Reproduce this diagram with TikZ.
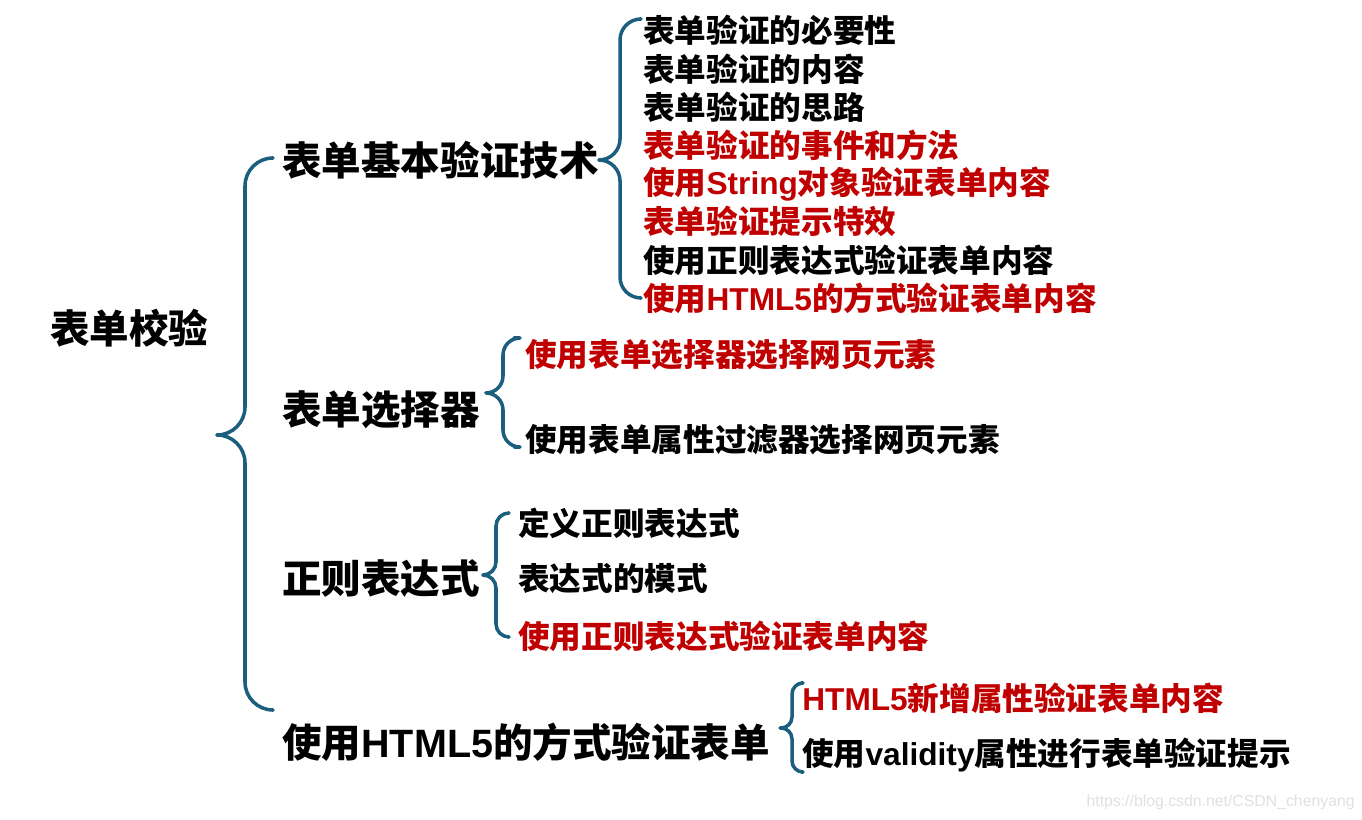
\documentclass[tikz,border=0pt]{standalone}
\usepackage{fontspec}
\setmainfont{Noto Sans CJK SC}
\newfontfamily\markfont{Liberation Sans}
\newcommand{\latin}[1]{{\markfont\bfseries #1}}
\definecolor{bracecol}{HTML}{1B5E7E}
\definecolor{hotred}{HTML}{C00000}
\tikzset{
  topic/.style={anchor=west, inner sep=0pt, font=\fontsize{22.5}{26}\selectfont\bfseries},
  leaf/.style={anchor=west, inner sep=0pt, font=\fontsize{18}{21}\selectfont\bfseries},
  hot/.style={leaf, text=hotred},
  bracket/.style={draw=bracecol, line width=2pt, line cap=round, line join=round},
}
% end x, spine x, tip x, top y, middle y, bottom y, corner radius
\newcommand{\curly}[7]{%
  \draw[bracket, rounded corners=#7] (#1,#4) -- (#2,#4) -- (#2,#5) -- (#3,#5);
  \draw[bracket, rounded corners=#7] (#3,#5) -- (#2,#5) -- (#2,#6) -- (#1,#6);}
\begin{document}
\begin{tikzpicture}[x=0.02cm, y=-0.02cm]
	\useasboundingbox (0,0) rectangle (1362,820);

	\node[topic] (root) at (50,328) {表单校验};
	\curly{272}{245}{218}{158}{435}{710}{0.56cm}

	% first branch
	\node[topic] (tech) at (282,160) {表单基本验证技术};
	\curly{640}{620}{600}{19}{160}{298}{0.42cm}
	\node[leaf] (tech1) at (643,30) {表单验证的必要性};
	\node[leaf] (tech2) at (643,69) {表单验证的内容};
	\node[leaf] (tech3) at (643,107) {表单验证的思路};
	\node[hot] (tech4) at (643,145) {表单验证的事件和方法};
	\node[hot] (tech5) at (643,184) {使用\latin{String}对象验证表单内容};
	\node[hot] (tech6) at (643,221) {表单验证提示特效};
	\node[leaf] (tech7) at (643,260) {使用正则表达式验证表单内容};
	\node[hot] (tech8) at (643,298) {使用\latin{HTML5}的方式验证表单内容};

	% second branch
	\node[topic] (select) at (282,410) {表单选择器};
	\curly{514}{503}{486}{338}{393}{447}{0.34cm}
	\node[hot] (select1) at (525,355) {使用表单选择器选择网页元素};
	\node[leaf] (select2) at (525,440) {使用表单属性过滤器选择网页元素};

	% third branch
	\node[topic] (regex) at (282,578) {正则表达式};
	\curly{508}{496}{484}{513}{575}{637}{0.26cm}
	\node[leaf] (regex1) at (518,523) {定义正则表达式};
	\node[leaf] (regex2) at (518,578) {表达式的模式};
	\node[hot] (regex3) at (518,636) {使用正则表达式验证表单内容};

	% fourth branch
	\node[topic] (html) at (282,742) {使用\latin{HTML5}的方式验证表单};
	\curly{801}{792}{780}{683}{728}{772}{0.22cm}
	\node[hot] (html1) at (802,698) {\latin{HTML5}新增属性验证表单内容};
	\node[leaf] (html2) at (802,755) {使用\latin{validity}属性进行表单验证提示};

	\node[anchor=east, inner sep=0pt, text=black!12, font=\markfont\fontsize{9}{11}\selectfont] (mark) at (1355,802) {https://blog.csdn.net/CSDN\_chenyang};
\end{tikzpicture}
\end{document}
